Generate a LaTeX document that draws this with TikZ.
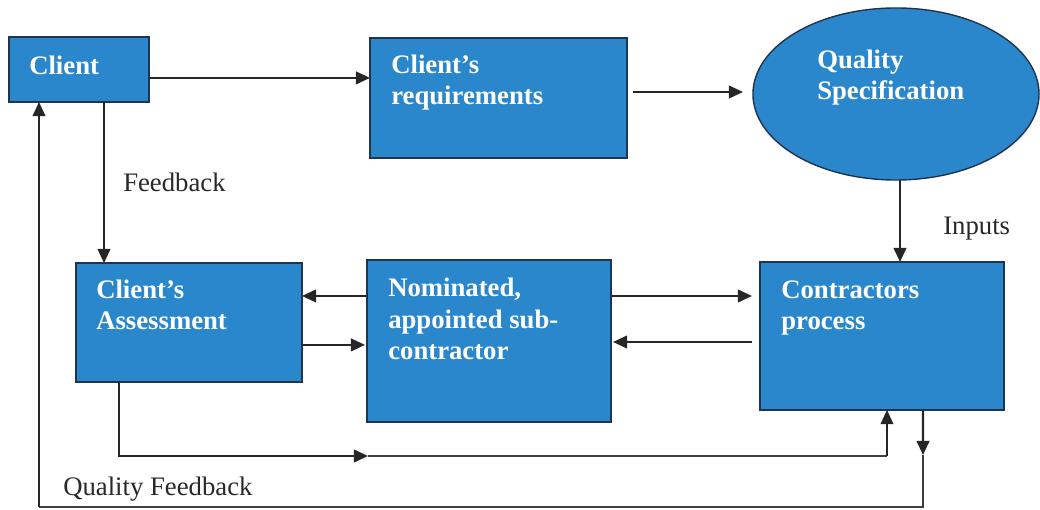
\documentclass[tikz,border=0pt]{standalone}
\usepackage{fontspec}
\setmainfont{Liberation Serif}
\usetikzlibrary{arrows.meta,shapes.geometric}
\definecolor{boxblue}{RGB}{43,135,203}
\definecolor{boxedge}{RGB}{32,52,78}
\definecolor{labelgray}{RGB}{40,40,40}
\tikzset{
	box/.style={draw=boxedge, fill=boxblue, line width=1pt, inner sep=0pt, outer sep=0pt},
	btxt/.style={text=white, font=\fontsize{19}{22.7}\selectfont\bfseries, align=left, inner sep=0pt, anchor=base west},
	ltxt/.style={text=labelgray, font=\fontsize{19}{22.7}\selectfont, inner sep=0pt, anchor=base west},
	arr/.style={-{Triangle[length=10pt,width=9pt]}, line width=1.5pt, draw=black!85},
	thinline/.style={line width=0.9pt, draw=black!75}
}
\begin{document}
\begin{tikzpicture}[x=0.025cm, y=-0.025cm]
	\useasboundingbox (0,0) rectangle (1040,510);
	\node[box, minimum width=3.5cm, minimum height=1.625cm] (client) at (79,69.5) {};
	\node[box, minimum width=6.425cm, minimum height=3cm] (req) at (498.5,98) {};
	\node[box, ellipse, minimum width=7.15cm, minimum height=4.3cm] (spec) at (896,94) {};
	\node[box, minimum width=5.65cm, minimum height=2.975cm] (assess) at (189,322.5) {};
	\node[box, minimum width=6.1cm, minimum height=4.05cm] (nom) at (489,341) {};
	\node[box, minimum width=6.1cm, minimum height=3.7cm] (contr) at (882,336) {};
	\node[btxt] (clientt) at (29,75) {Client};
	\node[btxt] (reqt) at (391,105) {Client's\\requirements};
	\node[btxt] (spect) at (817,100) {Quality\\Specification};
	\node[btxt] (assesst) at (96,330) {Client's\\Assessment};
	\node[btxt] (nomt) at (388,360) {Nominated,\\appointed sub-\\contractor};
	\node[btxt] (contrt) at (781,330) {Contractors\\process};
	\node[ltxt] (fbl) at (123,192) {Feedback};
	\node[ltxt] (inl) at (943,235) {Inputs};
	\node[ltxt] (qfl) at (63,495) {Quality Feedback};
	\coordinate (fb1) at (368,456);
	\coordinate (fb2) at (887,456);
	\coordinate (qf1) at (923,455);
	\coordinate (qf2) at (39,507);
	\draw[arr] ([yshift=-0.21cm]client.east) -- ([yshift=-0.21cm]client.east -| req.west);
	\draw[arr, shorten <=0.15cm, shorten >=0.25cm] ([yshift=0.15cm]req.east) -- ([yshift=0.15cm]req.east -| spec.west);
	\draw[arr] ([xshift=0.1cm]spec.south) -- ([xshift=0.1cm]spec.south |- contr.north);
	\draw[arr] ([xshift=0.625cm]client.south) -- ([xshift=0.625cm]client.south |- assess.north);
	\draw[arr] ([yshift=1.125cm]nom.west) -- ([yshift=1.125cm]nom.west -| assess.east);
	\draw[arr, shorten >=0.05cm] ([yshift=-0.56cm]assess.east) -- ([yshift=-0.56cm]assess.east -| nom.west);
	\draw[arr, shorten >=0.2cm] ([yshift=1.125cm]nom.east) -- ([yshift=1.125cm]nom.east -| contr.west);
	\draw[arr, shorten <=0.2cm, shorten >=0.05cm] ([yshift=-0.15cm]contr.west) -- ([yshift=-0.15cm]contr.west -| nom.east);
	\draw[arr] ([xshift=-1.75cm]assess.south) |- (fb1);
	\draw[thinline] (fb1) -- (fb2);
	\draw[arr, line width=1.1pt] (fb2) -- (fb2 |- contr.south);
	\draw[arr] ([xshift=1.025cm]contr.south) -- (qf1);
	\draw[thinline] (qf1) |- (qf2);
	\draw[arr, line width=1.1pt] (qf2) -- (qf2 |- client.south);
\end{tikzpicture}
\end{document}
